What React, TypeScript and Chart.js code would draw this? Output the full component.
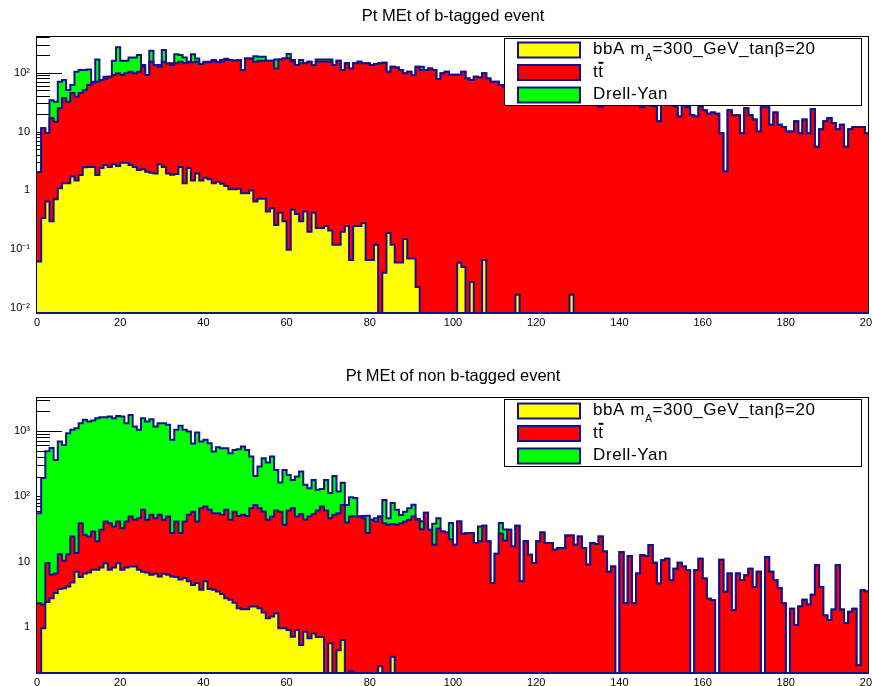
import React, { useEffect, useRef } from 'react';
import { Chart, registerables } from 'chart.js';

Chart.register(...registerables);

const FONT = '"Liberation Sans", Arial, Helvetica, sans-serif';
const LINE_COLOR = '#12128c';

const X_MIN = 0;
const X_MAX = 200;
const X_TICK_STEP = 20;

// A log axis cannot place 0: empty bins are drawn at a value far below the axis floor
const EMPTY_BIN = 1e-6;

// ROOT-style (TLatex) legend labels and fill colours, bottom of stack first
const SERIES_LABELS = ['bbA m_{A}=300_GeV_tanβ=20', 't#bar{t}', 'Drell-Yan'];
const SERIES_COLORS = ['#ffff00', '#ff0000', '#00ff00'];

const TITLE_B = 'Pt MEt of b-tagged event';
const TITLE_NB = 'Pt MEt of non b-tagged event';

const Y_TICKS_B = [0.01, 0.1, 1, 10, 100];
const Y_TICKS_NB = [1, 10, 100, 1000];
const Y_RANGE_B = [0.0083, 420];
const Y_RANGE_NB = [0.197, 3310];

// ---------- b-tagged: bin contents, 1 GeV bins from 0 to 200 ----------
const BBA_B = [
  0.062, 0.34, 0.65, 0.3, 0.71, 1.09, 1.33, 1.33, 1.72, 1.47,
  1.83, 2.48, 2.5, 2.5, 1.83, 2.4, 2.7, 2.5, 2.8, 2.6,
  2.96, 2.96, 2.7, 2.5, 2.23, 2.3, 2.08, 2.0, 1.95, 2.8,
  2.5, 1.95, 1.85, 1.9, 2.5, 1.33, 2.4, 1.47, 1.95, 1.47,
  1.65, 1.55, 1.33, 1.4, 1.3, 1.19, 1.05, 1.05, 1.07, 0.9,
  0.9, 1.0, 0.65, 0.72, 0.72, 0.44, 0.5, 0.26, 0.42, 0.3,
  0.098, 0.47, 0.4, 0.3, 0.44, 0.2, 0.42, 0.23, 0.23, 0.25,
  0.21, 0.12, 0.12, 0.2, 0.25, 0.066, 0.25, 0.25, 0.28, 0.066,
  0.066, 0.12, 0, 0.04, 0.19, 0.12, 0.06, 0.06, 0.15, 0.07,
  0.07, 0.023, 0, 0, 0, 0, 0, 0, 0, 0,
  0, 0.059, 0.05, 0, 0.028, 0, 0, 0.066, 0, 0,
  0, 0, 0, 0, 0, 0.017, 0, 0, 0, 0,
  0, 0, 0, 0, 0, 0, 0, 0, 0.017, 0,
  0, 0, 0, 0, 0, 0, 0, 0, 0, 0,
  0, 0, 0, 0, 0, 0, 0, 0, 0, 0,
  0, 0, 0, 0, 0, 0, 0, 0, 0, 0,
  0, 0, 0, 0, 0, 0, 0, 0, 0, 0,
  0, 0, 0, 0, 0, 0, 0, 0, 0, 0,
  0, 0, 0, 0, 0, 0, 0, 0, 0, 0,
  0, 0, 0, 0, 0, 0, 0, 0, 0, 0,
];

const TT_B = [
  2.0, 11.1, 8.8, 16.5, 14.0, 23.9, 35.7, 30.7, 43.3, 37.5,
  43.2, 48.5, 59.5, 63.5, 68.2, 72.6, 77.3, 82.5, 88.2, 95.4,
  88.0, 95.0, 101.3, 95.5, 101.8, 123.7, 88.9, 152, 133, 123.2,
  151.5, 142, 133.2, 142.1, 151.5, 142.7, 147.6, 148.5, 153, 138.5,
  148.3, 148.4, 158.7, 148.6, 152.7, 163.8, 163, 159, 163, 110,
  174, 174, 153.4, 159.3, 159.3, 159.6, 159.5, 117.7, 167.6, 174.7,
  175, 154.5, 134.6, 143.7, 143.6, 153.8, 134.6, 154.8, 154.8, 154.8,
  154.8, 135, 160, 111, 144, 118, 144, 144, 144, 144,
  135, 140, 144, 147, 104, 126, 122, 111, 98, 104,
  91, 126, 111, 111, 118, 111, 78, 98, 104, 92,
  92, 92, 104, 80, 75, 85, 83, 98, 80, 70,
  70, 62, 58, 60, 55, 58, 52, 50, 54, 48,
  46, 50, 44, 42, 45, 40, 38, 40, 36, 35,
  37, 34, 33, 35, 31, 26, 30, 32, 30, 29,
  31, 28, 30, 29, 28, 26, 29, 28, 27, 15,
  30, 28, 30, 27, 18, 28, 26, 19, 18, 27,
  23, 20, 21, 20, 9.4, 2.1, 23, 19, 19, 9.4,
  25, 19, 16, 10, 26, 26, 13, 21, 13, 12,
  10, 10, 15, 9.4, 16, 9.4, 24, 5.5, 11, 15,
  17, 14, 11, 13, 5.5, 11, 12, 12, 12, 9.4,
];

const DY_B = [
  0, 0, 0, 17.2, 17.3, 45, 38, 19, 17, 65,
  66, 60, 51, 4, 98, 0, 5, 0, 69, 172,
  69, 62, 78, 84, 96, 9, 0, 83, 0, 9,
  89, 0, 9, 61, 46, 38, 4, 55, 20, 0,
  4, 4, 4, 4, 10, 8, 0, 0, 0, 0,
  0, 0, 36, 27, 27, 0, 0, 50, 0, 0,
  33, 9, 0, 20, 0, 0, 0, 13, 13, 13,
  13, 0, 0, 0, 0, 0, 0, 10, 0, 0,
  0, 0, 0, 0, 0, 0, 0, 0, 0, 0,
  0, 0, 15, 0, 0, 0, 0, 0, 0, 0,
  0, 0, 0, 0, 0, 0, 0, 0, 0, 0,
  0, 0, 0, 0, 0, 0, 0, 0, 0, 0,
  0, 0, 0, 0, 0, 0, 0, 0, 0, 0,
  0, 0, 0, 0, 0, 0, 0, 0, 0, 0,
  0, 0, 0, 0, 0, 0, 0, 0, 0, 0,
  0, 0, 0, 0, 0, 0, 0, 0, 0, 0,
  0, 0, 0, 0, 0, 0, 0, 0, 0, 0,
  0, 0, 0, 0, 0, 0, 0, 0, 0, 0,
  0, 0, 0, 0, 0, 0, 0, 0, 0, 0,
  0, 0, 0, 0, 0, 0, 0, 0, 0, 0,
];

// ---------- non b-tagged ----------
const BBA_NB = [
  0, 0.95, 2.4, 2.75, 3.3, 3.8, 3.9, 4.15, 4.8, 7.0,
  5.8, 6.6, 6.8, 7.5, 7.5, 8.1, 9.4, 7.5, 8.1, 9.4,
  7.5, 8.1, 8.4, 8.4, 7.5, 7.0, 6.8, 6.3, 6.5, 5.9,
  6.5, 6.3, 5.9, 5.8, 5.3, 5.6, 5.0, 4.4, 4.7, 3.7,
  5.0, 3.8, 3.7, 3.5, 3.2, 2.75, 2.6, 2.35, 1.93, 1.87,
  1.87, 2.06, 2.06, 1.93, 1.66, 1.36, 1.44, 1.62, 0.95, 0.95,
  0.9, 0.71, 0.9, 0.53, 0.84, 0.67, 0.79, 0.7, 0.7, 0,
  0.56, 0, 0.44, 0.63, 0, 0.21, 0, 0, 0, 0,
  0, 0, 0.25, 0, 0, 0.35, 0, 0, 0, 0,
  0, 0, 0, 0, 0, 0, 0, 0, 0, 0,
  0, 0, 0, 0, 0, 0, 0, 0, 0, 0,
  0, 0, 0, 0, 0, 0, 0, 0, 0, 0,
  0, 0, 0, 0, 0, 0, 0, 0, 0, 0,
  0, 0, 0, 0, 0, 0, 0, 0, 0, 0,
  0, 0, 0, 0, 0, 0, 0, 0, 0, 0,
  0, 0, 0, 0, 0, 0, 0, 0, 0, 0,
  0, 0, 0, 0, 0, 0, 0, 0, 0, 0,
  0, 0, 0, 0, 0, 0, 0, 0, 0, 0,
  0, 0, 0, 0, 0, 0, 0, 0, 0, 0,
  0, 0, 0, 0, 0, 0, 0, 0, 0, 0,
];

const TT_NB = [
  2.3, 1.25, 7.1, 3.55, 3.3, 9.1, 6.4, 8.75, 19.5, 6.5,
  33, 19.2, 17.5, 21.5, 12.9, 22.6, 31.6, 31.3, 26.4, 31.6,
  25.1, 32.9, 40.6, 35.3, 38.5, 55, 36.9, 45.7, 39.5, 46.1,
  37.2, 42.7, 21.4, 35.2, 22, 35.4, 47, 53.6, 36.3, 61.8,
  64.5, 58.2, 51.3, 51.5, 48.8, 59.3, 41.1, 55.7, 48.1, 50.1,
  48.1, 63.4, 71.5, 63.6, 56.3, 42.3, 47.6, 58.9, 57.1, 35.6,
  59.6, 64.8, 48.1, 53, 42.9, 48.3, 52.7, 59.8, 68.8, 60.5,
  45.4, 52, 54.6, 73, 39.7, 48.8, 50, 49, 46, 27.3,
  43.7, 41, 48.8, 38.8, 36.5, 37.3, 36.5, 38.8, 41, 43.7,
  49, 43.7, 31.3, 56, 30.7, 18.1, 32, 29, 28, 22,
  18.1, 41, 26.7, 27.3, 27.3, 19.2, 20.4, 35.3, 20.4, 4.7,
  13.2, 27, 21, 30.7, 17.1, 35.3, 5.0, 20.4, 12.7, 9.5,
  20.4, 28, 19.2, 19.2, 15.2, 16.1, 16.1, 25, 25, 18.1,
  24.3, 16.1, 9.0, 19.2, 18.6, 24.3, 14.3, 7, 8.4, 0,
  14, 2.3, 12.2, 2.3, 6.6, 12.6, 12.2, 18, 9.6, 4.6,
  10.5, 11.1, 5.2, 7.8, 9.6, 8.4, 7.4, 0, 7.4, 11.1,
  5.5, 2.7, 2.57, 0, 10.7, 3.45, 6.6, 1.8, 6.6, 5.2,
  6.2, 7.8, 4.1, 7.0, 0, 11.8, 7.0, 5.2, 3.9, 2.3,
  0, 1.9, 1.07, 2.06, 2.6, 2.2, 3.1, 8.8, 4.1, 1.5,
  1.28, 1.85, 8.8, 1.85, 1.15, 1.7, 1.9, 0.26, 3.65, 3.5,
];

const DY_NB = [
  52.7, 188, 480, 544, 353, 677, 600, 912, 1016, 1086,
  1276, 1453, 1376, 1411, 1550, 1589, 1579, 1624, 1535, 1659,
  1630, 1274, 1711, 1126, 994, 1508, 1356, 1458, 1124, 1263,
  1271, 1191, 704, 999, 1173, 999, 928, 582, 904, 625,
  662, 588, 430, 510, 493, 483, 413, 455, 475, 525,
  463, 340, 131, 220, 325, 286, 357, 193, 104, 217,
  151, 112, 152, 186, 106, 84, 124, 65, 60, 117,
  66, 153, 63, 88, 34, 48, 44, 0, 4, 23,
  0, 5, 0, 49, 9.5, 41, 25.5, 13, 17, 22,
  25, 1.3, 10, 0, 0, 20, 14, 0, 0, 17,
  0, 0, 0, 0, 0, 0, 14, 0, 0, 0,
  0, 12, 10, 0, 0, 0, 0, 0, 0, 0,
  0, 0, 0, 0, 0, 0, 0, 0, 0, 0,
  0, 0, 0, 0, 0, 0, 0, 0, 0, 0,
  0, 0, 0, 0, 0, 0, 0, 0, 0, 0,
  0, 0, 0, 0, 0, 0, 0, 0, 0, 0,
  0, 0, 0, 0, 0, 0, 0, 0, 0, 0,
  0, 0, 0, 0, 0, 0, 0, 0, 0, 0,
  0, 0, 0, 0, 0, 0, 0, 0, 0, 0,
  0, 0, 0, 0, 0, 0, 0, 0, 0, 0,
];

// ---------- helpers ----------
const SUP: Record<string, string> = { '-': '⁻', '0': '⁰', '1': '¹', '2': '²', '3': '³', '4': '⁴' };
function logLabel(v: number): string {
  const e = Math.round(Math.log10(v));
  if (e === 0) return '1';
  if (e === 1) return '10';
  return '10' + String(e).split('').map((c) => SUP[c] || c).join('');
}

function histPoints(vals: number[]) {
  const w = (X_MAX - X_MIN) / vals.length;
  const pts = vals.map((v, i) => ({ x: X_MIN + i * w, y: v > 0 ? v : EMPTY_BIN }));
  pts.push({ x: X_MAX, y: pts[pts.length - 1].y });
  return pts;
}

const font = (size: number) => `${size}px ${FONT}`;

function drawRich(ctx: CanvasRenderingContext2D, text: string, x: number, y: number, size: number) {
  const parts = text.split(/(_\{[^}]*\}|#bar\{[^}]*\})/).filter((p) => p.length > 0);
  let cx = x;
  for (const p of parts) {
    if (p.startsWith('_{')) {
      const s = p.slice(2, -1);
      ctx.font = font(size * 0.6);
      ctx.fillText(s, cx, y + size * 0.4);
      cx += ctx.measureText(s).width;
    } else if (p.startsWith('#bar{')) {
      const s = p.slice(5, -1);
      ctx.font = font(size);
      ctx.fillText(s, cx, y);
      const w = ctx.measureText(s).width;
      ctx.fillRect(cx + w * 0.05, y - size * 0.87, w * 0.9, 2);
      cx += w;
    } else {
      ctx.font = font(size);
      ctx.fillText(p, cx, y);
      cx += ctx.measureText(p).width;
    }
  }
}

const rootDecor = {
  id: 'rootDecor',
  beforeDatasetsDraw(chart: any) {
    const { ctx, chartArea: a } = chart;
    const ys = chart.scales.y;
    ctx.save();
    ctx.strokeStyle = '#000';
    ctx.lineWidth = 1;
    const lo = Math.floor(Math.log10(ys.min));
    const hi = Math.ceil(Math.log10(ys.max));
    for (let d = lo; d <= hi; d++) {
      for (let k = 1; k <= 9; k++) {
        const v = k * Math.pow(10, d);
        if (v < ys.min || v > ys.max) continue;
        const py = Math.round(ys.getPixelForValue(v)) + 0.5;
        ctx.beginPath();
        ctx.moveTo(a.left, py);
        ctx.lineTo(a.left + (k === 1 ? 25 : 13), py);
        ctx.stroke();
      }
    }
    ctx.restore();
  },
  afterDatasetsDraw(chart: any) {
    const { ctx, chartArea: a } = chart;
    ctx.save();
    ctx.strokeStyle = '#000';
    ctx.lineWidth = 1;
    ctx.strokeRect(a.left - 0.5, a.top + 0.5, a.right - a.left, a.bottom - a.top);
    ctx.strokeStyle = LINE_COLOR;
    ctx.lineWidth = 2;
    ctx.beginPath();
    ctx.moveTo(a.left, a.bottom);
    ctx.lineTo(a.right, a.bottom);
    ctx.stroke();
    ctx.restore();
  },
  afterDraw(chart: any, _args: any, opts: any) {
    const { ctx, chartArea: a } = chart;
    ctx.save();
    // title
    ctx.fillStyle = '#000';
    ctx.font = font(16.5);
    ctx.textAlign = 'center';
    ctx.textBaseline = 'alphabetic';
    ctx.fillText(opts.title, (a.left + a.right) / 2, opts.titleY);
    // legend
    ctx.textAlign = 'left';
    const L = 504, R = 862, T = a.top + 2, H = 68;
    ctx.fillStyle = '#fff';
    ctx.fillRect(L, T, R - L, H);
    ctx.strokeStyle = '#000';
    ctx.lineWidth = 1;
    ctx.strokeRect(L + 0.5, T + 0.5, R - L - 1, H - 1);
    const datasets = chart.data.datasets;
    for (let i = 0; i < datasets.length; i++) {
      const ds = datasets[i];
      const sy = T + 4.5 + i * 22.5;
      ctx.fillStyle = ds.backgroundColor;
      ctx.fillRect(518, sy, 62, 15);
      ctx.strokeStyle = LINE_COLOR;
      ctx.lineWidth = 2;
      ctx.strokeRect(518, sy, 62, 15);
      ctx.fillStyle = '#000';
      (ctx as any).letterSpacing = '0.6px';
      drawRich(ctx, ds.label, 593, T + 16 + i * 22.6, 17);
      (ctx as any).letterSpacing = '0px';
    }
    ctx.restore();
  },
};

interface PanelProps {
  top: number;
  height: number;
  padTop: number;
  xAxisH: number;
  title: string;
  titleY: number;
  yRange: number[];
  yTicks: number[];
  series: number[][];
}

function Panel(p: PanelProps) {
  const ref = useRef<HTMLCanvasElement>(null);
  useEffect(() => {
    if (!ref.current) return;
    const datasets = p.series.map((vals, i) => ({
      label: SERIES_LABELS[i],
      data: histPoints(vals),
      stepped: true,
      fill: 'start',
      backgroundColor: SERIES_COLORS[i],
      borderColor: LINE_COLOR,
      borderWidth: 2,
      pointRadius: 0,
      tension: 0,
    }));
    const chart = new Chart(ref.current, {
      type: 'line',
      data: { datasets } as any,
      options: {
        responsive: false,
        animation: false,
        devicePixelRatio: 1,
        layout: { padding: { top: p.padTop, right: 21, left: 0, bottom: 0 } },
        plugins: {
          legend: { display: false },
          tooltip: { enabled: false },
          rootDecor: { title: p.title, titleY: p.titleY },
        } as any,
        scales: {
          x: {
            type: 'linear',
            min: X_MIN,
            max: X_MAX,
            grid: { display: false, drawTicks: false },
            border: { display: false },
            ticks: {
              stepSize: X_TICK_STEP,
              autoSkip: false,
              maxRotation: 0,
              color: '#000',
              padding: 3,
              font: { family: FONT, size: 11 },
            },
            afterFit: (s: any) => {
              s.height = p.xAxisH;
            },
          },
          y: {
            type: 'logarithmic',
            stacked: true,
            min: p.yRange[0],
            max: p.yRange[1],
            grid: { display: false, drawTicks: false },
            border: { display: false },
            afterBuildTicks: (s: any) => {
              s.ticks = p.yTicks.map((v) => ({ value: v }));
            },
            ticks: {
              color: '#000',
              padding: 7,
              font: { family: FONT, size: 11 },
              callback: (v: any) => logLabel(Number(v)),
            },
            afterFit: (s: any) => {
              s.width = 37;
            },
          },
        },
      } as any,
      plugins: [rootDecor as any],
    });
    return () => chart.destroy();
  }, []);
  return (
    <canvas
      ref={ref}
      width={890}
      height={p.height}
      style={{ position: 'absolute', left: 0, top: p.top, width: 890, height: p.height }}
    />
  );
}

export default function App() {
  return (
    <div
      style={{
        position: 'absolute',
        left: 0,
        top: 0,
        width: 872,
        height: 686,
        overflow: 'hidden',
        background: '#fff',
      }}
    >
      <Panel
        top={0}
        height={343}
        padTop={36}
        xAxisH={30}
        title={TITLE_B}
        titleY={21}
        yRange={Y_RANGE_B}
        yTicks={Y_TICKS_B}
        series={[BBA_B, TT_B, DY_B]}
      />
      <Panel
        top={343}
        height={370}
        padTop={54}
        xAxisH={40}
        title={TITLE_NB}
        titleY={38}
        yRange={Y_RANGE_NB}
        yTicks={Y_TICKS_NB}
        series={[BBA_NB, TT_NB, DY_NB]}
      />
    </div>
  );
}
